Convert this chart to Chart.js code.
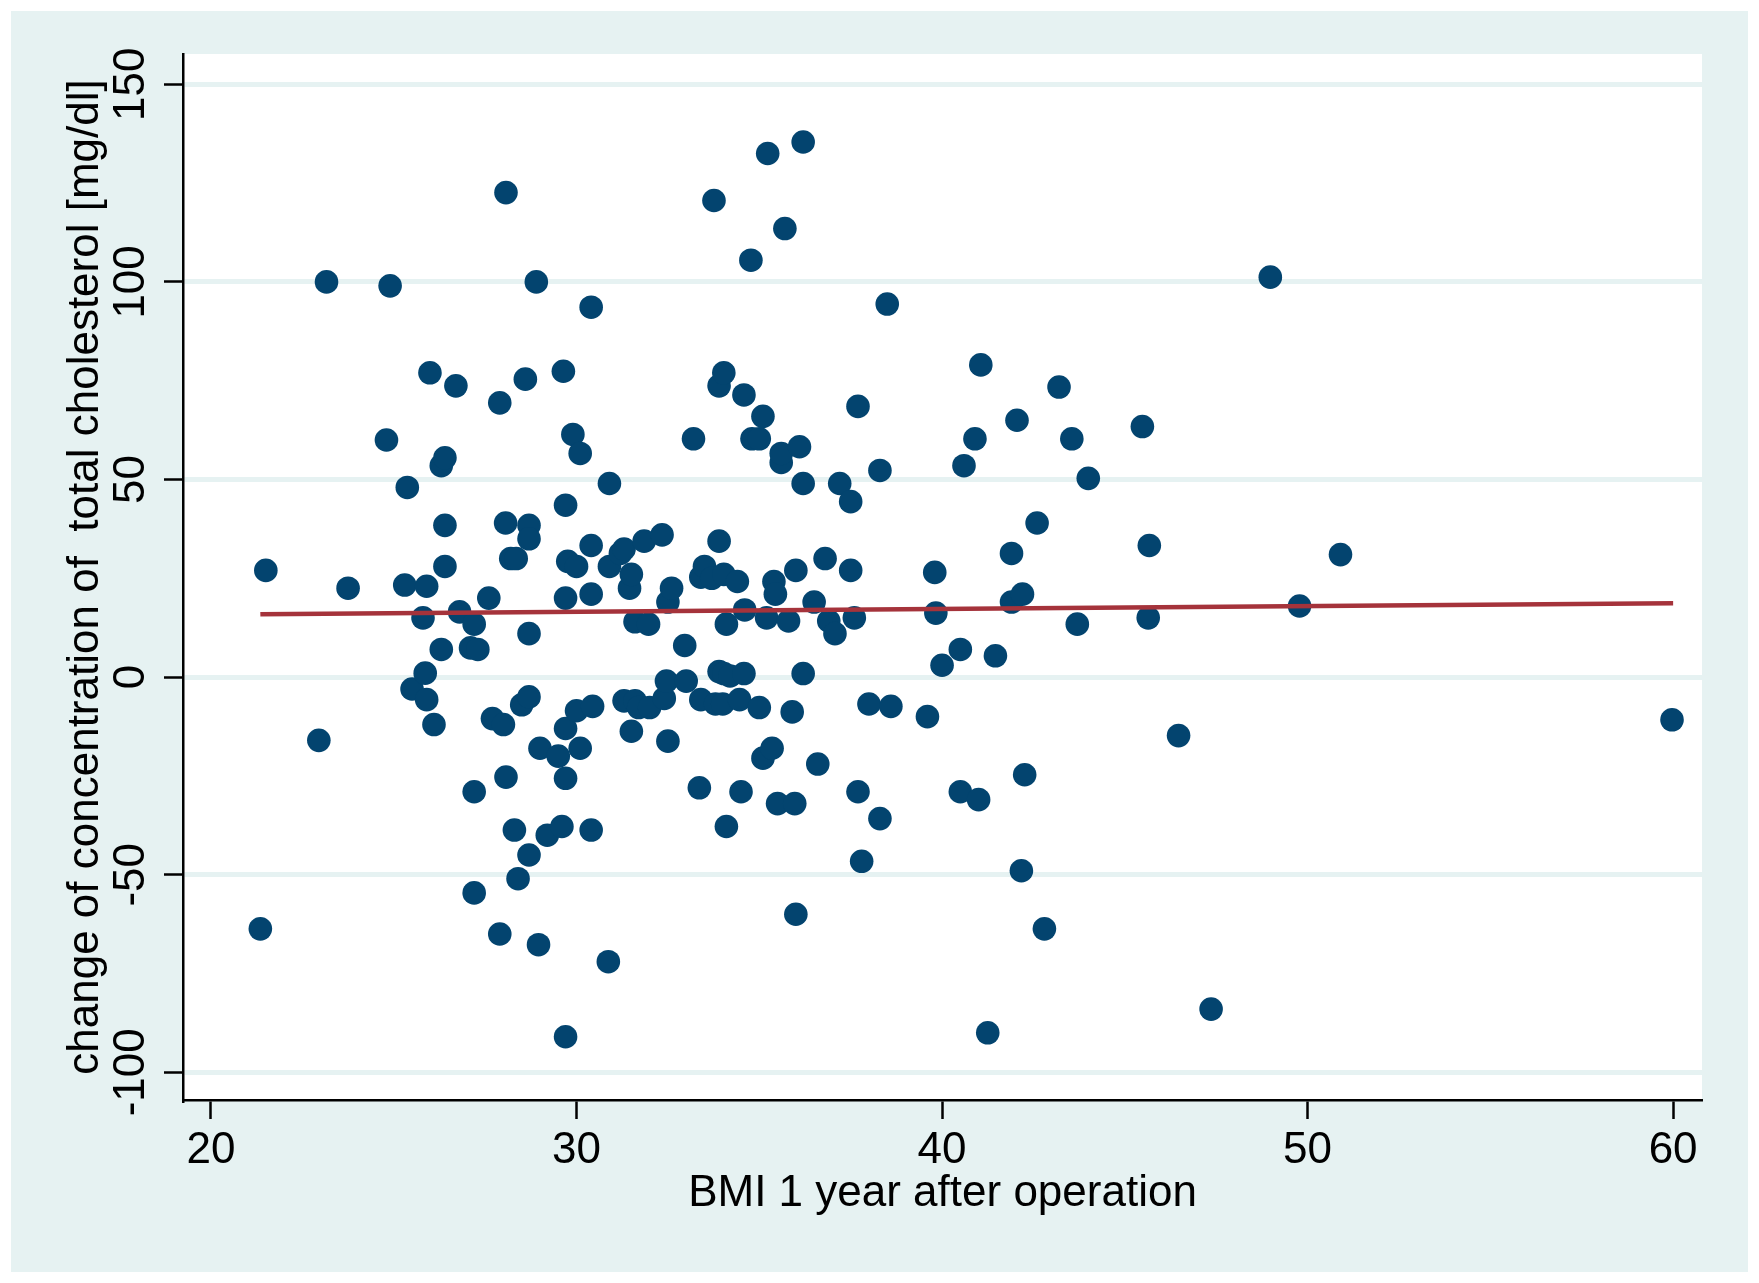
<!DOCTYPE html>
<html>
<head>
<meta charset="utf-8">
<script src="https://cdn.jsdelivr.net/npm/chart.js@4.4.1/dist/chart.umd.min.js"></script>
<style>
  html, body { margin: 0; padding: 0; background: #ffffff; }
  canvas { display: block; }
</style>
</head>
<body>
<canvas id="chart" width="1759" height="1283"></canvas>
<script>
// BMI one year after operation (x) and change of total cholesterol (y)
const bmi = [
  21.35, 21.5, 22.95, 23.16, 23.75, 24.8, 24.9, 25.3, 25.37, 25.5,
  25.8, 25.86, 25.9, 25.9, 25.99, 26.1, 26.3, 26.3, 26.4, 26.4,
  26.4, 26.7, 26.8, 27.1, 27.2, 27.2, 27.2, 27.3, 27.6, 27.7,
  27.9, 27.9, 28.0, 28.07, 28.06, 28.07, 28.2, 28.3, 28.35, 28.4,
  28.5, 28.6, 28.7, 28.7, 28.7, 28.7, 28.7, 28.9, 28.96, 29.0,
  29.2, 29.5, 29.6, 29.64, 29.7, 29.7, 29.7, 29.7, 29.7, 29.76,
  29.9, 30.0, 30.0, 30.1, 30.1, 30.4, 30.4, 30.4, 30.4, 30.44,
  30.87, 30.9, 30.9, 31.2, 31.3, 31.3, 31.45, 31.5, 31.5, 31.6,
  31.6, 31.7, 31.85, 31.97, 32.0, 32.34, 32.4, 32.46, 32.5, 32.5,
  32.6, 32.96, 33.0, 33.2, 33.36, 33.4, 33.4, 33.5, 33.7, 33.76,
  33.8, 33.9, 33.9, 34.0, 33.9, 34.03, 34.03, 34.03, 34.1, 34.1,
  34.2, 34.4, 34.46, 34.5, 34.58, 34.58, 34.6, 34.77, 34.8, 35.0,
  35.0, 35.1, 35.1, 35.2, 35.23, 35.35, 35.4, 35.44, 35.5, 35.6,
  35.6, 35.7, 35.8, 35.9, 35.97, 36.0, 36.0, 36.1, 36.2, 36.2,
  36.2, 36.5, 36.6, 36.8, 36.9, 37.07, 37.2, 37.5, 37.5, 37.6,
  37.7, 37.7, 37.8, 38.0, 38.3, 38.3, 38.5, 38.6, 39.6, 39.8,
  39.83, 40.0, 40.5, 40.5, 40.6, 40.9, 41.0, 41.06, 41.25, 41.46,
  41.9, 41.9, 42.05, 42.17, 42.2, 42.26, 42.6, 42.8, 43.2, 43.55,
  43.7, 44.0, 45.48, 45.64, 45.67, 46.47, 47.36, 48.98, 49.78, 50.9,
  59.97
];
const cholChange = [
  -63.7, 27, -16, 100, 22.5, 60, 99, 23.3, 48, -3,
  15, 1, -5.7, 23, 77, -12, 7, 53.5, 55.5, 38.4,
  28, 73.7, 16.5, 7.4, 13.4, -54.6, -29, 7, 20, -10.5,
  69.4, -65, -12, 122.6, 39, -25.3, 30, -38.7, 30, -51,
  -7, 75.4, -5, 11, 38.4, 35, -45, 100, -67.7, -18,
  -40, -20, -37.8, 77.4, 20, -91, -25.6, 43.5, -13, 29.3,
  61.4, -8.5, 28, 56.6, -18, 93.6, -38.7, 33.3, 21, -7.4,
  -72, 49, 28, 31.3, 32.4, -6, 22.5, 26, -13.7, 14,
  -6, -7.7, 34.4, 13.4, -7.7, 36, -5.4, -1, -16.2, 19,
  22.5, 8, -1, 60.3, -28, 25.3, -5.7, 28, 25, 120.6,
  -6.8, 73.7, 1.4, -6.8, 34.4, 77, 26, 0.9, -37.8, 13.4,
  0.3, 24.2, -5.7, -29, 71.4, 0.9, 17, 105.5, 60.3, 60.3,
  -7.7, 66, -20.5, 15, 132.5, -18, 24.2, 21, -32, 54.3,
  56.6, 113.5, 14.2, -8.8, -32, 27, -60, 58.3, 135.4, 0.9,
  49, 19, -22, 30, 14.2, 11, 49, 44.4, 27, 15,
  68.5, -29, -46.6, -6.8, 52.3, -35.8, 94.4, -7.4, -10, 26.5,
  16.2, 3, -29, 7, 53.5, 60.3, -31, 79, -90, 5.4,
  31.3, 19, 65, -49, 21, -24.7, 39, -63.7, 73.4, 60.3,
  13.4, 50.3, 63.4, 15, 33.3, -14.8, -84, 101.2, 18, 31,
  -10.8
];

// linear fit line, end points
const fitX = [21.35, 60];
const fitY = [15.9, 18.7];

const xTicks = [20, 30, 40, 50, 60];
const yTicks = [-100, -50, 0, 50, 100, 150];

const BAND = "#e6f2f2";
const NAVY = "#03446f";
const RED = "#a5333b";
const FONT = { family: "'Liberation Sans', Arial, sans-serif", size: 44 };

const backgroundPlugin = {
  id: "stataBackground",
  beforeDraw(chart) {
    const { ctx, chartArea } = chart;
    ctx.save();
    ctx.fillStyle = "#ffffff";
    ctx.fillRect(0, 0, chart.width, chart.height);
    ctx.fillStyle = BAND;
    ctx.fillRect(11, 11, chart.width - 22, chart.height - 22);
    ctx.fillStyle = "#ffffff";
    ctx.fillRect(chartArea.left, chartArea.top, chartArea.right - chartArea.left, chartArea.bottom - chartArea.top);
    ctx.restore();
  },
};

new Chart(document.getElementById("chart"), {
  type: "scatter",
  data: {
    datasets: [
      {
        type: "line",
        label: "Fitted values",
        data: fitX.map((x, i) => ({ x, y: fitY[i] })),
        borderColor: RED,
        borderWidth: 4.5,
        pointRadius: 0,
        fill: false,
        order: 0,
      },
      {
        label: "change of total cholesterol",
        data: bmi.map((x, i) => ({ x, y: cholChange[i] })),
        backgroundColor: NAVY,
        borderWidth: 0,
        pointRadius: 11.8,
        pointHoverRadius: 11.8,
        order: 1,
      },
    ],
  },
  options: {
    responsive: false,
    devicePixelRatio: 1,
    animation: false,
    events: [],
    layout: { padding: { left: 0, top: 54, right: 57, bottom: 0 } },
    plugins: {
      legend: { display: false },
      tooltip: { enabled: false },
    },
    scales: {
      x: {
        type: "linear",
        min: 19.234,
        max: 60.79,
        afterBuildTicks: (scale) => { scale.ticks = xTicks.map((v) => ({ value: v })); },
        afterFit: (scale) => { scale.height = 183; },
        ticks: { font: FONT, color: "#000", padding: 5.6, maxRotation: 0 },
        grid: { drawOnChartArea: false, tickColor: "#000", tickWidth: 2.5, tickLength: 19 },
        border: { display: true, color: "#000", width: 2.5 },
        title: {
          display: true,
          text: "BMI 1 year after operation",
          font: FONT,
          color: "#000",
          padding: { top: 0, bottom: 62.6 },
        },
      },
      y: {
        type: "linear",
        min: -107.0,
        max: 157.67,
        afterBuildTicks: (scale) => { scale.ticks = yTicks.map((v) => ({ value: v })); },
        afterFit: (scale) => { scale.width = 183; },
        ticks: { font: FONT, color: "#000", padding: -12, minRotation: 90, maxRotation: 90, crossAlign: "center" },
        grid: { color: BAND, lineWidth: 5, tickColor: "#000", tickWidth: 2.5, tickLength: 19 },
        border: { display: true, color: "#000", width: 2.5 },
        title: {
          display: true,
          text: "change of concentration of  total cholesterol [mg/dl]",
          font: FONT,
          color: "#000",
          padding: { top: 59.6, bottom: 0 },
        },
      },
    },
  },
  plugins: [backgroundPlugin],
});
</script>
</body>
</html>
